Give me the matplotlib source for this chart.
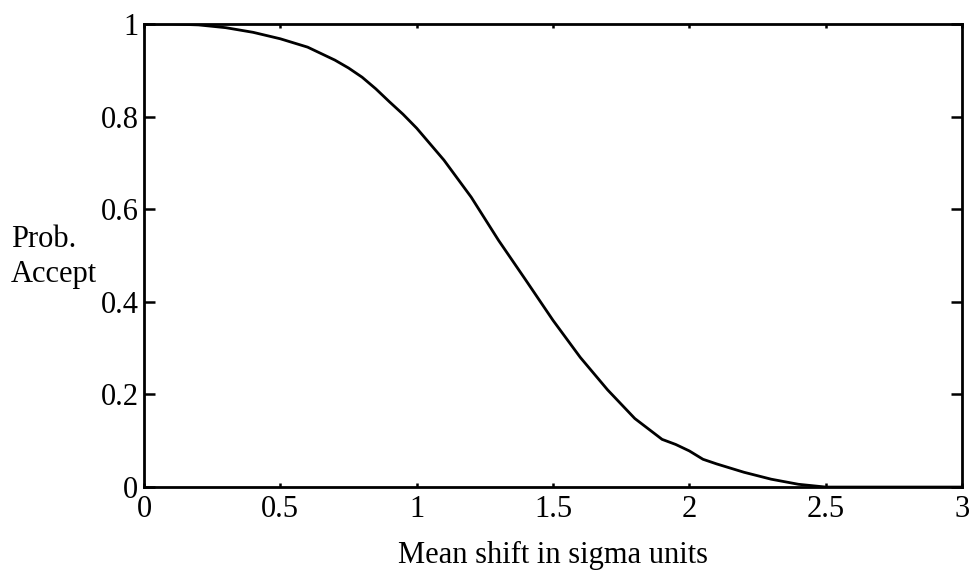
import matplotlib
matplotlib.use("Agg")
import matplotlib.pyplot as plt

# Acceptance probability versus mean shift (in sigma units)
mean_shift = [0.0, 0.1, 0.2, 0.3, 0.4, 0.5, 0.6, 0.7, 0.75, 0.8, 0.85, 0.9, 0.95, 1.0,
              1.1, 1.2, 1.3, 1.4, 1.5, 1.6, 1.7, 1.8, 1.9, 1.95, 2.0, 2.05, 2.1, 2.2,
              2.3, 2.4, 2.5, 2.75, 3.0]
prob_accept = [1.0, 1.0, 0.998, 0.992, 0.982, 0.968, 0.95, 0.922, 0.905, 0.885, 0.86,
               0.832, 0.805, 0.775, 0.706, 0.626, 0.533, 0.447, 0.36, 0.28, 0.21,
               0.148, 0.103, 0.092, 0.078, 0.06, 0.05, 0.032, 0.017, 0.006, 0.0,
               0.0, 0.0]

x_ticks = [0, 0.5, 1, 1.5, 2, 2.5, 3]
x_tick_labels = ["0", "0.5", "1", "1.5", "2", "2.5", "3"]
y_ticks = [0, 0.2, 0.4, 0.6, 0.8, 1]
y_tick_labels = ["0", "0.2", "0.4", "0.6", "0.8", "1"]

plt.rcParams["font.family"] = ["Liberation Serif", "DejaVu Serif"]

W, H = 975, 571
fig = plt.figure(figsize=(W / 100, H / 100), dpi=100)
ax = fig.add_axes([0.1477, 0.147, 0.8390, 0.811])

ax.plot(mean_shift, prob_accept, color="black", linewidth=2.0)

ax.set_xlim(0, 3)
ax.set_ylim(0, 1)
ax.set_xticks(x_ticks)
ax.set_xticklabels(x_tick_labels)
ax.set_yticks(y_ticks)
ax.set_yticklabels(y_tick_labels)

for spine in ax.spines.values():
    spine.set_linewidth(2.0)

ax.tick_params(axis="both", direction="in", top=True, right=True,
               labelsize=22, width=1.8, colors="black")
ax.tick_params(axis="y", length=8, pad=4)
ax.tick_params(axis="x", length=3, pad=6)

ax.set_xlabel("Mean shift in sigma units", fontsize=22, labelpad=12)

# Two-line horizontal y-axis caption on the left
fig.text(11 / W, 1 - 247 / H, "Prob.", fontsize=22, ha="left", va="baseline")
fig.text(11 / W, 1 - 282 / H, "Accept", fontsize=22, ha="left", va="baseline")

fig.savefig("out.png", dpi=100, facecolor="white")
